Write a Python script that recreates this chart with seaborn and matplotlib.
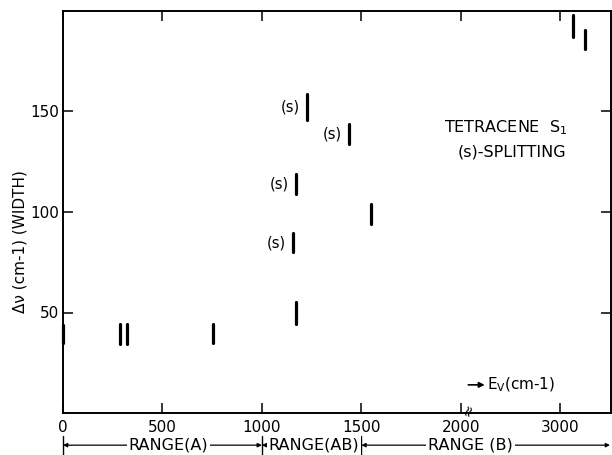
import numpy as np
import pandas as pd
import matplotlib
matplotlib.use("Agg")
import matplotlib.pyplot as plt
import seaborn as sns

# line positions E_v (cm-1) and width ranges dv (cm-1)
line_pos = [0, 286, 320, 752, 1157, 1171, 1171, 1228, 1437, 1546, 3123, 3247]
width_low = [35, 34.5, 34.5, 35, 80, 109, 44.5, 146, 134, 94, 187, 181]
width_high = [44, 44.5, 44.5, 44.5, 89.5, 119, 55, 158.5, 144, 104, 198, 190.5]
is_split = [False, False, False, False, True, True, False, True, True, False, False, False]

x_ticks = [0, 500, 1000, 1500, 2000, 3000]
y_ticks = [50, 100, 150]
ranges = [("RANGE(A)", 0, 1000, 530), ("RANGE(AB)", 1000, 1500, 1262), ("RANGE (B)", 1500, 3500, 2100)]

rows = []
for i, (x, lo, hi) in enumerate(zip(line_pos, width_low, width_high)):
    rows.append({"E": x, "dv": lo, "bar": i})
    rows.append({"E": x, "dv": hi, "bar": i})
df = pd.DataFrame(rows)

sns.set_style("ticks")
plt.rcParams["font.family"] = ["DejaVu Sans"]
plt.rcParams["text.color"] = "black"
plt.rcParams["xtick.color"] = "black"
plt.rcParams["ytick.color"] = "black"
plt.rcParams["axes.labelcolor"] = "black"

fig = plt.figure(figsize=(6.12, 4.55), dpi=100)
ax = fig.add_axes([63 / 612, 42 / 455, 548 / 612, 402 / 455])

sns.lineplot(data=df, x="E", y="dv", units="bar", estimator=None, sort=False,
             color="black", linewidth=2.3, ax=ax, legend=False)
for ln in ax.lines:
    ln.set_clip_on(False)


# broken axis: above 2000 the scale is compressed by a factor 2
def fwd(x):
    x = np.asarray(x, dtype=float)
    return np.where(x <= 2000, x, 2000 + (x - 2000) / 2)


def inv(t):
    t = np.asarray(t, dtype=float)
    return np.where(t <= 2000, t, 2000 + (t - 2000) * 2)


ax.set_xscale("function", functions=(fwd, inv))
ax.set_xlim(0, 3510)
ax.set_ylim(0, 200)
ax.set_xticks(x_ticks)
ax.set_xticklabels([str(t) for t in x_ticks])
ax.set_yticks(y_ticks)
ax.set_xlabel("")
ax.set_ylabel("")
ax.tick_params(direction="in", top=True, right=True, length=7, width=1.1,
               labelsize=11, color="black", labelcolor="black")
ax.tick_params(axis="x", pad=5)
ax.tick_params(axis="y", pad=3)
for sp in ax.spines.values():
    sp.set_linewidth(1.4)
    sp.set_color("black")

# (s) labels next to split lines
for x, lo, hi, s in zip(line_pos, width_low, width_high, is_split):
    if s:
        ax.annotate("(s)", xy=(x, (lo + hi) / 2), xytext=(-5, 0), textcoords="offset points",
                    ha="right", va="center", fontsize=10.5)

ax.text(2452, 142, r"TETRACENE  S$_1$", ha="center", va="center", fontsize=11.5)
ax.text(2518, 130, "(s)-SPLITTING", ha="center", va="center", fontsize=11.5)

fig.text(20 / 612, 1 - 242 / 455, "Δν (cm-1) (WIDTH)", rotation=90,
         ha="center", va="center", fontsize=11)

# E_v arrow label
ax.annotate("", xy=(2240, 14), xytext=(2075, 14),
            arrowprops=dict(arrowstyle="-|>", color="black", lw=1.2, mutation_scale=8,
                            shrinkA=0, shrinkB=0))
ax.text(2262, 14, r"E$_\mathrm{V}$(cm-1)", ha="left", va="center", fontsize=11)

# break mark at 2000
ax.text(2070, 1.5, "≈", rotation=70, ha="center", va="center", fontsize=11, clip_on=False)

# range bars below the axis
y_r = -16
for label, x0, x1, xc in ranges:
    ax.annotate("", xy=(x0, y_r), xytext=(x1, y_r), annotation_clip=False,
                arrowprops=dict(arrowstyle="<|-|>", color="black", lw=0.9, mutation_scale=6,
                                shrinkA=0, shrinkB=0))
    ax.text(xc, y_r, label, ha="center", va="center", fontsize=11.5, clip_on=False,
            bbox=dict(facecolor="white", edgecolor="none", pad=1.5))
for xb in [0, 1000, 1500]:
    ax.plot([xb, xb], [-11.5, -21], color="black", lw=1.0, clip_on=False)

fig.savefig("out.png", dpi=100)
